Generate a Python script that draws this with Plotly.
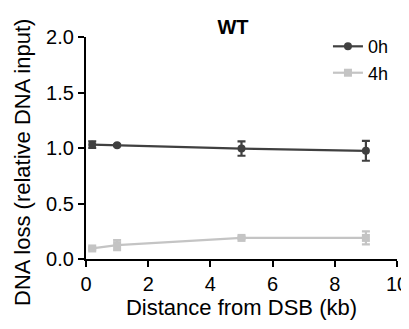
import plotly.graph_objects as go

distance = [0.2, 1, 5, 9]
h0_vals = [1.03, 1.024, 0.995, 0.975]
h0_err = [0.03, 0.008, 0.065, 0.09]
h4_vals = [0.095, 0.125, 0.19, 0.19]
h4_err = [0.01, 0.045, 0.012, 0.058]

dark = "#404040"
light = "#c4c4c4"
font = "Liberation Sans, Arial, sans-serif"

# page body has an 8px default margin, so the figure is sized 8px smaller
W, H = 401, 321
L, R, T, B = 78, 12, 29, 70
PW, PH = W - L - R, H - T - B

fig = go.Figure()
fig.add_trace(go.Scatter(
    x=distance, y=h0_vals, name="0h", mode="lines+markers",
    line=dict(color=dark, width=2.2),
    marker=dict(symbol="circle", size=8, color=dark),
    error_y=dict(type="data", array=h0_err, color=dark, thickness=2.2, width=4),
))
fig.add_trace(go.Scatter(
    x=distance, y=h4_vals, name="4h", mode="lines+markers",
    line=dict(color=light, width=2.2),
    marker=dict(symbol="square", size=8, color=light),
    error_y=dict(type="data", array=h4_err, color=light, thickness=2.2, width=4),
))

fig.update_layout(
    width=W, height=H,
    margin=dict(l=L, r=R, t=T, b=B),
    plot_bgcolor="white", paper_bgcolor="white",
    font=dict(family=font, size=20, color="black"),
    title=dict(text="<b>WT</b>", x=225/W, xanchor="center", xref="container",
               y=1 - 19/H, yref="container", yanchor="middle",
               font=dict(size=20, family=font)),
    legend=dict(x=0.778, xanchor="left", y=1.04, yanchor="top",
                bgcolor="rgba(0,0,0,0)", font=dict(size=18),
                tracegroupgap=0, itemwidth=30),
    showlegend=True,
    annotations=[dict(
        text="DNA loss (relative DNA input)", textangle=-90,
        xref="paper", yref="paper",
        x=(14 - L) / PW, y=1 - (155 - T) / PH,
        xanchor="center", yanchor="middle", showarrow=False,
        font=dict(size=22, family=font, color="black"),
    )],
)
fig.update_xaxes(
    range=[0, 10], tickvals=[0, 2, 4, 6, 8, 10],
    showline=True, linecolor="black", linewidth=2.2,
    ticks="outside", ticklen=6, tickwidth=2.2, tickcolor="black",
    showgrid=False, zeroline=False, automargin=False,
    title=dict(text="Distance from DSB (kb)", standoff=3, font=dict(size=22)),
)
fig.update_yaxes(
    range=[0, 2], tickvals=[0, 0.5, 1.0, 1.5, 2.0], tickformat=".1f",
    showline=True, linecolor="black", linewidth=2.2,
    ticks="outside", ticklen=6, tickwidth=2.2, tickcolor="black",
    showgrid=False, zeroline=False, automargin=False,
)

fig.write_html("out.html")
